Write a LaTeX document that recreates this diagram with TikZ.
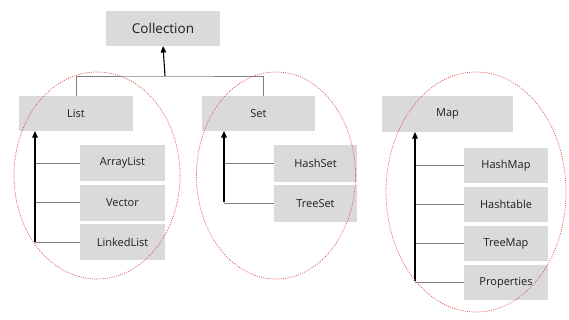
\documentclass[tikz,border=0pt]{standalone}
\usepackage{fontspec}
\setsansfont{Open Sans}
\usetikzlibrary{arrows.meta,positioning}
\definecolor{boxgray}{RGB}{218,218,218}
\definecolor{txtgray}{RGB}{30,30,30}
\definecolor{ovalred}{RGB}{226,80,80}
\tikzset{pin/.style={line width=1.1pt, -{Triangle[length=6.5pt,width=5.5pt]}},
  link/.style={line width=0.9pt, gray},
  blk/.style={fill=boxgray, text=txtgray, font=\sffamily\fontsize{11}{13}\selectfont, outer sep=0pt},
  oval/.style={ovalred, line width=0.7pt, dash pattern=on 1pt off 1.2pt}}

\begin{document}
\begin{tikzpicture}[x=1pt, y=-1pt]
  \useasboundingbox (0,0) rectangle (569,319);
  % root
  \node[blk, minimum width=114pt, minimum height=35pt, font=\sffamily\fontsize{13.5}{15}\selectfont] (coll) at (163,28.5) {Collection};
  % interfaces
  \node[blk, minimum width=114pt, minimum height=35pt] (list) at (76,113.5) {List};
  \node[blk, minimum width=113pt, minimum height=35pt] (set) at (258.5,113.5) {Set};
  \node[blk, minimum width=131pt, minimum height=36pt] (map) at (447.5,114) {Map};
  \coordinate (bar) at (165,76);
  \draw[link] (list.north) |- (bar) -| ([xshift=4.5pt]set.north);
  \draw[pin] (bar) -- (coll.south);
  % list classes
  \node[blk, minimum width=85pt, minimum height=36pt] (alist) at (122.5,163) {ArrayList};
  \node[blk, minimum width=85pt, minimum height=36pt, below=3.5pt of alist] (vec) {Vector};
  \node[blk, minimum width=85pt, minimum height=36pt, below=3.5pt of vec] (llist) {LinkedList};
  \coordinate (lroot) at (35,242);
  \foreach \c in {alist,vec,llist}{\draw[link] (\c.west) -- (\c.west -| lroot);}
  \draw[pin] (lroot) -- (lroot |- list.south);
  % set classes
  \node[blk, minimum width=83pt, minimum height=37pt] (hset) at (315.5,163.5) {HashSet};
  \node[blk, minimum width=83pt, minimum height=37pt, below=3pt of hset] (tset) {TreeSet};
  \coordinate (sroot) at (224,202);
  \foreach \c in {hset,tset}{\draw[link] (\c.west) -- (\c.west -| sroot);}
  \draw[pin] (sroot) -- (sroot |- set.south);
  % map classes
  \node[blk, minimum width=84pt, minimum height=35pt] (hmap) at (506,165.5) {HashMap};
  \node[blk, minimum width=84pt, minimum height=35pt, below=4pt of hmap] (htab) {Hashtable};
  \node[blk, minimum width=84pt, minimum height=35pt, below=4pt of htab] (tmap) {TreeMap};
  \node[blk, minimum width=84pt, minimum height=35pt, below=4pt of tmap] (prop) {Properties};
  \coordinate (mroot) at (415,281);
  \foreach \c in {hmap,htab,tmap,prop}{\draw[link] (\c.west) -- (\c.west -| mroot);}
  \draw[pin] (mroot) -- (mroot |- map.south);
  % groups
  \draw[oval] (97,175.5) ellipse [x radius=83pt, y radius=103.5pt];
  \draw[oval] (276,175.5) ellipse [x radius=79.5pt, y radius=103.5pt];
  \draw[oval] (476,192) ellipse [x radius=90pt, y radius=120pt];
\end{tikzpicture}
\end{document}
